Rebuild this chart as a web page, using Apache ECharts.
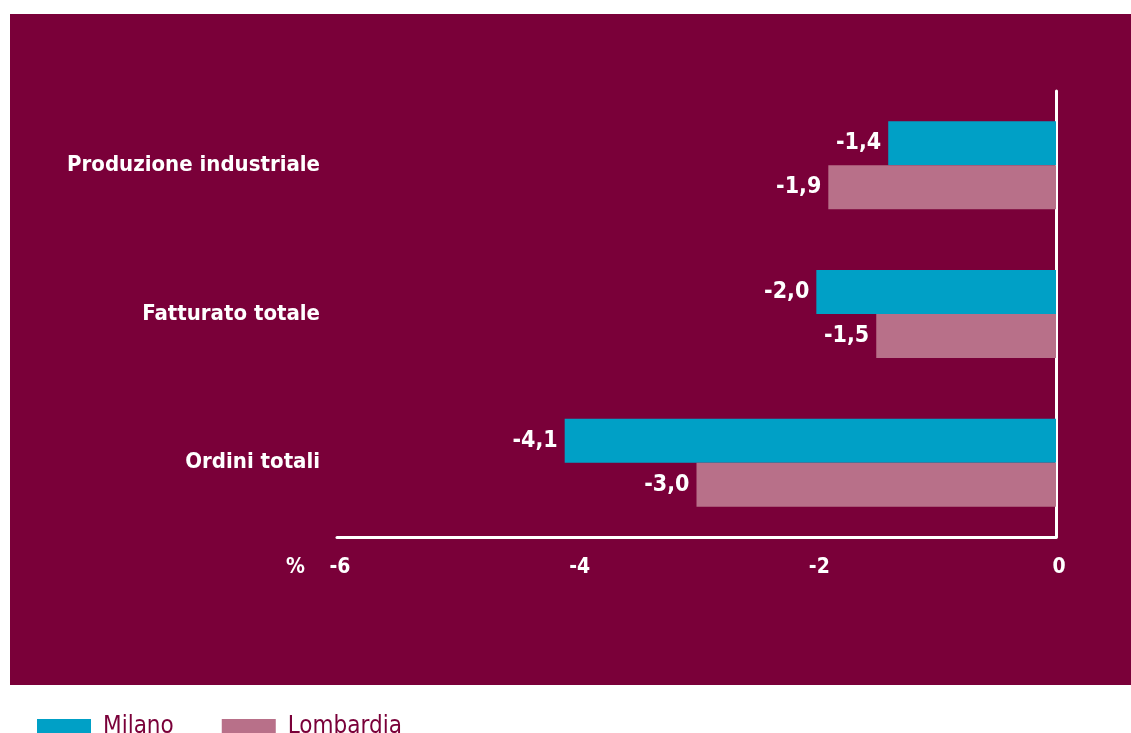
<!DOCTYPE html>
<html>
<head>
<meta charset="utf-8">
<script src="https://cdn.jsdelivr.net/npm/echarts@6/dist/echarts.min.js"></script>
<style>html,body{margin:0;padding:0;background:#fff}#c{width:1131px;height:733px}</style>
</head>
<body>
<div id="c"></div>
<script>
const categories = ['Produzione industriale', 'Fatturato totale', 'Ordini totali'];
const milano = [-1.4, -2.0, -4.1];
const lombardia = [-1.9, -1.5, -3.0];
const xTicks = [-6, -4, -2, 0];

const FONT = "'DejaVu Sans Condensed', 'Liberation Sans Narrow', sans-serif";
const BG = '#7A0039';
const chart = echarts.init(document.getElementById('c'));
const fmt = p => p.value.toFixed(1).replace('.', ',');
const labelStyle = {
  show: true, position: 'left', distance: 7, color: '#fff',
  fontFamily: FONT, fontWeight: 'bold', fontSize: 23, formatter: fmt
};
chart.setOption({
  backgroundColor: '#fff',
  animation: false,
  graphic: [
    { type: 'rect', z: -100, shape: { x: 10, y: 14, width: 1121, height: 671 }, style: { fill: BG } },
    { type: 'text', left: 286, top: 557, style: { text: '%', fill: '#fff', font: 'bold 21px ' + FONT } }
  ],
  legend: {
    left: 37, top: 713, padding: 0, itemWidth: 54, itemHeight: 16, itemGap: 48,
    icon: 'rect',
    textStyle: { color: BG, fontFamily: FONT, fontSize: 24, lineHeight: 24, padding: [0, 0, 4, 7] },
    data: ['Milano', 'Lombardia']
  },
  grid: { left: 337, right: 75, top: 91, bottom: 196, containLabel: false },
  xAxis: {
    type: 'value', min: -6, max: 0, interval: 2,
    splitLine: { show: false },
    axisTick: { show: false },
    axisLine: { show: true, onZero: false, lineStyle: { color: '#fff', width: 3 } },
    axisLabel: {
      color: '#fff', fontFamily: FONT, fontWeight: 'bold', fontSize: 21, margin: 20,
      padding: [0, 0, 0, 6],
      formatter: v => xTicks.includes(v) ? String(v) : ''
    }
  },
  yAxis: [
    {
      type: 'category', data: categories, inverse: true, position: 'left',
      axisLine: { show: false }, axisTick: { show: false },
      axisLabel: { color: '#fff', fontFamily: FONT, fontWeight: 'bold', fontSize: 22, margin: 17 }
    },
    {
      type: 'category', data: categories, inverse: true, position: 'right',
      axisLine: { show: true, lineStyle: { color: '#fff', width: 3 } },
      axisTick: { show: false }, axisLabel: { show: false }
    }
  ],
  series: [
    { name: 'Milano', type: 'bar', data: milano, barWidth: 44, barGap: '0%',
      itemStyle: { color: '#00A0C6' }, label: labelStyle },
    { name: 'Lombardia', type: 'bar', data: lombardia, barWidth: 44, barGap: '0%',
      itemStyle: { color: '#B87089' }, label: labelStyle }
  ]
});
</script>
</body>
</html>
